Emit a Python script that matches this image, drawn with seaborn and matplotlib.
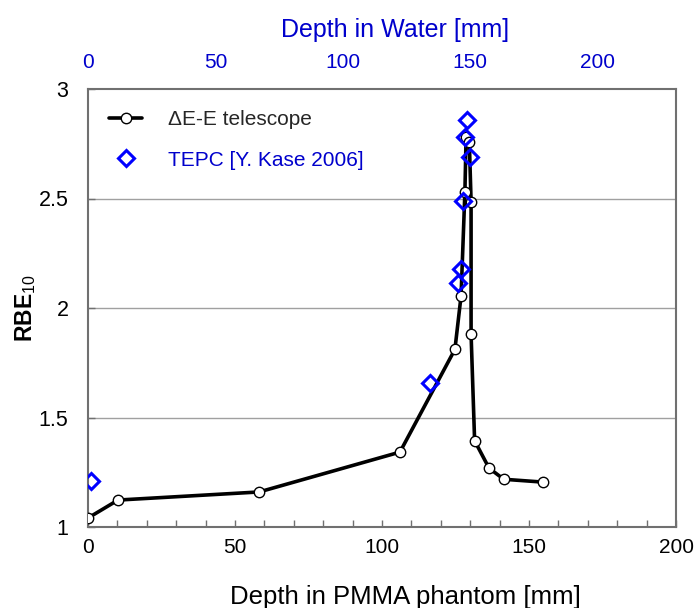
import matplotlib
matplotlib.use("Agg")
import matplotlib.pyplot as plt
import seaborn as sns
import pandas as pd

# Data
tel_depth = [0.0, 10.2, 58.2, 106.1, 124.8, 126.9, 128.2, 128.6, 129.7, 130.3, 130.3, 131.5, 136.4, 141.4, 154.8]
tel_rbe = [1.041, 1.123, 1.160, 1.342, 1.811, 2.056, 2.531, 2.779, 2.759, 2.485, 1.880, 1.394, 1.269, 1.218, 1.205]
tepc_depth = [0.9, 116.3, 125.9, 126.8, 127.5, 128.2, 129.0, 130.1]
tepc_rbe = [1.210, 1.656, 2.113, 2.177, 2.490, 2.783, 2.858, 2.688]
x_ticks = [0, 50, 100, 150, 200]
y_ticks = [1, 1.5, 2, 2.5, 3]
y_tick_labels = ["1", "1.5", "2", "2.5", "3"]
water_ticks = [0, 50, 100, 150, 200]
water_ratio = 1.154

sns.set_theme(style="white")
plt.rcParams['font.family'] = ['Liberation Sans', 'DejaVu Sans']
plt.rcParams['mathtext.fontset'] = 'custom'
plt.rcParams['mathtext.rm'] = 'Liberation Sans'
plt.rcParams['mathtext.bf'] = 'Liberation Sans:bold'

tel = pd.DataFrame({"depth": tel_depth, "rbe": tel_rbe})
tepc = pd.DataFrame({"depth": tepc_depth, "rbe": tepc_rbe})

fig = plt.figure(figsize=(6.94, 6.08), dpi=100)
ax = fig.add_axes([88/694, 81/608, (676-88)/694, (527-89)/608])

for yv in [1.5, 2, 2.5]:
    ax.axhline(yv, color="#a0a0a0", lw=1.0, zorder=0)

sns.lineplot(data=tel, x="depth", y="rbe", sort=False, estimator=None, ax=ax,
             color="black", lw=2.6, marker="o", markersize=7.5,
             markerfacecolor="white", markeredgecolor="black", markeredgewidth=1.0,
             label="\u0394E-E telescope", zorder=3)
sns.lineplot(data=tepc, x="depth", y="rbe", sort=False, estimator=None, ax=ax,
             color="#0000FF", linestyle="", marker="D", markersize=8,
             markerfacecolor="none", markeredgecolor="#0000FF", markeredgewidth=2.2,
             label="TEPC [Y. Kase 2006]", zorder=4)

ax.set_xlim(0, 200)
ax.set_ylim(1, 3)
ax.set_xticks(x_ticks)
ax.set_xticks(range(0, 201, 10), minor=True)
ax.set_yticks(y_ticks)
ax.set_yticklabels(y_tick_labels)
ax.tick_params(axis="x", which="both", direction="in", bottom=True, length=5, width=1,
               color="#707070", labelsize=15, pad=8, labelcolor="black")
ax.tick_params(axis="y", which="both", direction="in", left=True, length=5, width=1,
               color="#707070", labelsize=15.5, pad=14, labelcolor="black")
for s in ax.spines.values():
    s.set_color("#707070")
    s.set_linewidth(1.5)

ax.set_xlabel("Depth in PMMA phantom [mm]", fontsize=18.5, labelpad=20, color="black")
ax.xaxis.label.set_x((405 - 88) / 588)
ax.set_ylabel(r"$\mathbf{RBE}_{10}$", fontsize=16.5, color="black")
ax.yaxis.set_label_coords((38 - 88) / 588, 0.5)

sec = ax.secondary_xaxis("top", functions=(lambda x: x * water_ratio, lambda x: x / water_ratio))
sec.set_xticks(water_ticks)
sec.tick_params(axis="x", length=0, labelsize=15, labelcolor="#0000CC", pad=12)
sec.spines["top"].set_visible(False)
sec.set_xlabel("Depth in Water [mm]", fontsize=18, color="#0000CC", labelpad=12)
sec.xaxis.label.set_x((395 - 88) / 588)

leg = ax.legend(loc="upper left", bbox_to_anchor=(0.0, 1.0), frameon=False,
                fontsize=15, handlelength=1.6, labelspacing=1.05, handletextpad=1.25,
                borderaxespad=0.6)
leg.get_texts()[1].set_color("#0000CC")

fig.savefig("out.png", dpi=100)
